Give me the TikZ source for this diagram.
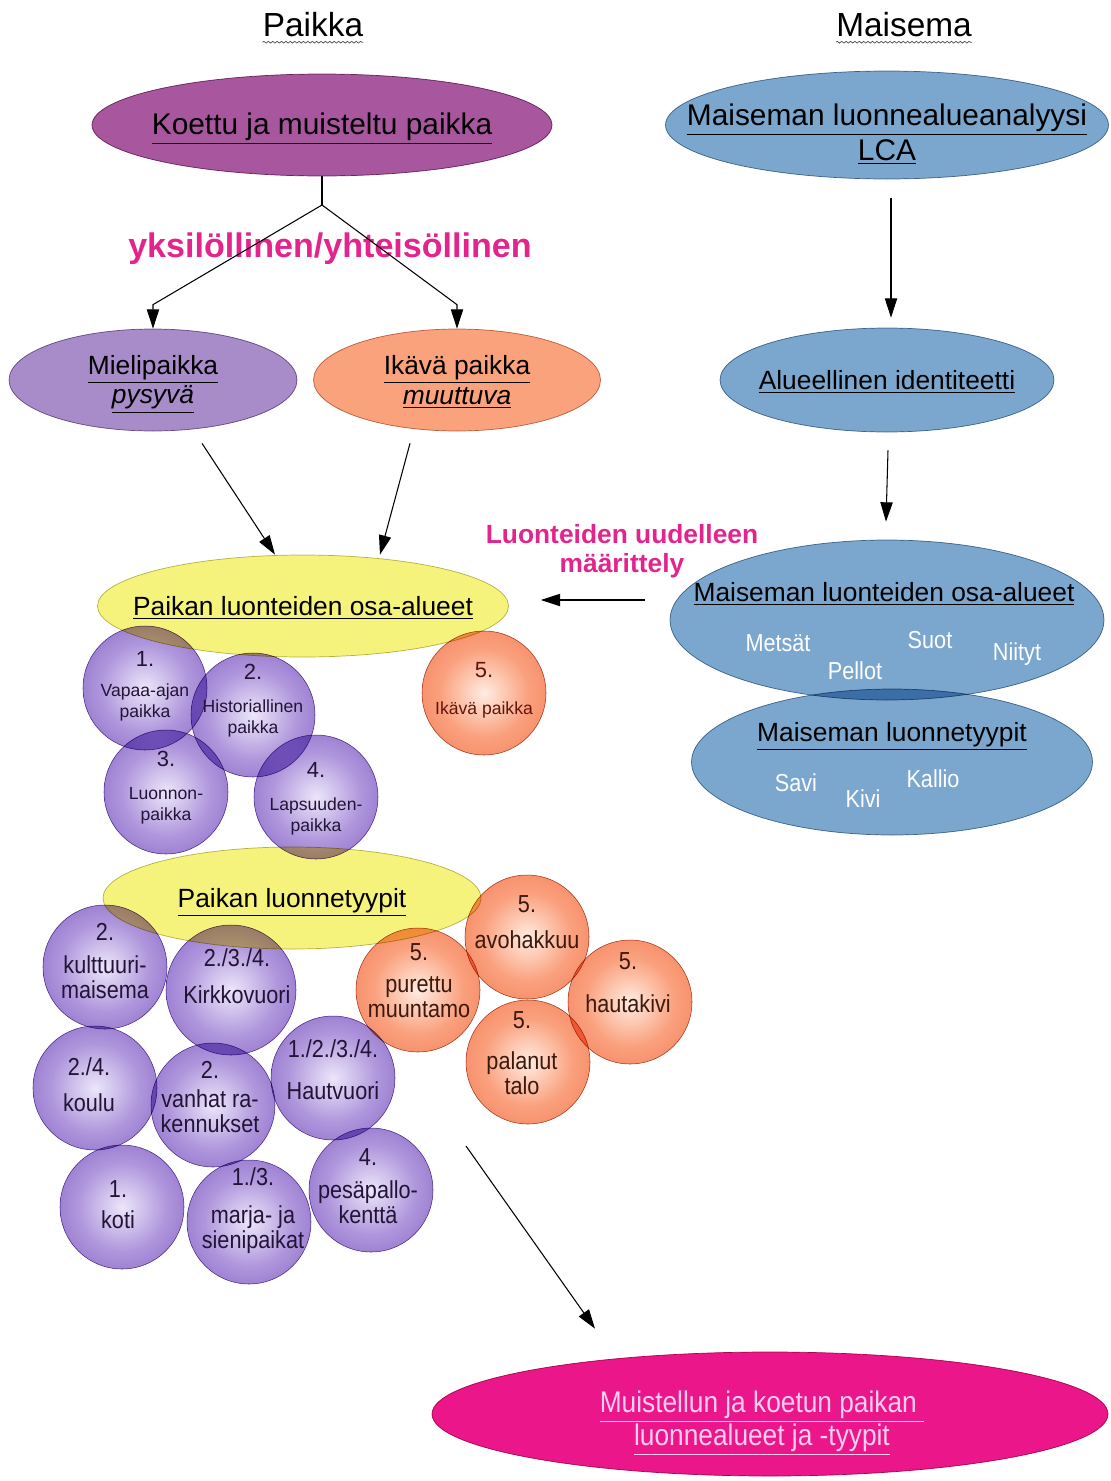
\documentclass[tikz,border=0pt]{standalone}
\usepackage{fontspec}
\setmainfont{Liberation Sans}
\newfontfamily\kapea[FakeStretch=0.88]{Liberation Sans}
\usetikzlibrary{shapes.geometric,arrows.meta,decorations.pathmorphing}

\definecolor{koettu}{RGB}{168,86,158}
\definecolor{maisema}{RGB}{123,167,206}
\definecolor{mieli}{RGB}{168,140,202}
\definecolor{ikava}{RGB}{250,162,124}
\definecolor{keltainen}{RGB}{246,243,125}
\definecolor{tulos}{RGB}{235,22,138}
\definecolor{pinkki}{RGB}{226,36,140}
\definecolor{vp0}{RGB}{236,230,250}
\definecolor{vp1}{RGB}{175,150,220}
\definecolor{vp2}{RGB}{130,95,195}
\definecolor{vp3}{RGB}{106,66,176}
\definecolor{op0}{RGB}{255,236,226}
\definecolor{op1}{RGB}{250,160,125}
\definecolor{op2}{RGB}{242,122,82}
\definecolor{op3}{RGB}{234,100,60}
\definecolor{tumma}{RGB}{35,20,55}
\definecolor{ruskea}{RGB}{60,25,15}
\definecolor{vaalea}{RGB}{255,205,240}

\pgfdeclareradialshading{violetti}{\pgfpoint{0bp}{0bp}}{color(0bp)=(vp0); color(18bp)=(vp1); color(38bp)=(vp2); color(50bp)=(vp3)}
\pgfdeclareradialshading{oranssi}{\pgfpoint{0bp}{0bp}}{color(0bp)=(op0); color(18bp)=(op1); color(38bp)=(op2); color(50bp)=(op3)}

\tikzset{
  nuoli/.style={-{Triangle[length=11pt,width=7pt]}, line width=.6pt},
  aalto/.style={decorate, decoration={snake, amplitude=.5pt, segment length=2.5pt}, line width=.4pt, draw=black!70},
  soikio/.style n args={3}{ellipse, minimum width=#1*0.02cm, minimum height=#2*0.02cm, inner sep=0pt, fill=#3, draw=#3!75!black, line width=.4pt},
  pallo/.style={circle, minimum size=124*0.02cm, inner sep=0pt, shade, shading=violetti, draw=vp3!85!black, line width=.3pt},
  opallo/.style={pallo, shading=oranssi, draw=op3!70!black},
  ots/.style={font=\fontsize{15}{17}\selectfont, align=center, inner sep=0pt},
  isoots/.style={font=\fontsize{17}{20}\selectfont, align=center, inner sep=0pt},
  pieni/.style={font=\fontsize{10}{12}\selectfont, align=center, inner sep=0pt, text=tumma},
  ptxt/.style={font=\kapea\fontsize{14}{14.2}\selectfont, align=center, inner sep=0pt, text=tumma},
  otxt/.style={ptxt, text=ruskea},
  valko/.style={font=\kapea\fontsize{14}{14}\selectfont, text=white, inner sep=0pt},
}

\begin{document}
\begin{tikzpicture}[x=0.02cm,y=-0.02cm]
\useasboundingbox (0,0) rectangle (1111,1481);
\node[font=\fontsize{19}{19}\selectfont, inner sep=0pt] (paikka) at (313,25) {Paikka};
\node[font=\fontsize{19}{19}\selectfont, inner sep=0pt] (maisema) at (904,25) {Maisema};
\draw[aalto] ([yshift=-3pt]paikka.base west) -- ([yshift=-3pt]paikka.base east);
\draw[aalto] ([yshift=-3pt]maisema.base west) -- ([yshift=-3pt]maisema.base east);
% muodot
\begin{scope}[blend mode=multiply]
\node[soikio={460}{102}{koettu}] (koettu) at (322,125) {};
\node[soikio={443}{108}{maisema}] (lca) at (887,125) {};
\node[soikio={288}{102}{mieli}] (mieli) at (153,380) {};
\node[soikio={287}{102}{ikava}] (ikava) at (457,380) {};
\node[soikio={334}{104}{maisema}] (alue) at (887,380) {};
\node[soikio={411}{102}{keltainen}] (osa) at (303,606) {};
\node[soikio={434}{160}{maisema}] (mosa) at (887,620) {};
\node[soikio={401}{146}{maisema}] (mtyyp) at (892,762) {};
\node[soikio={378}{102}{keltainen}] (tyyp) at (292,898) {};
\node[soikio={676}{124}{tulos}] (tulos) at (770,1414) {};
\node[pallo] (k1) at (145,688) {};
\node[pallo] (k2) at (253,715) {};
\node[pallo] (k3) at (166,792) {};
\node[pallo] (k4) at (316,797) {};
\node[opallo] (k5) at (484,693) {};
\node[pallo] (b1) at (105,967) {};
\node[pallo, minimum size=130*0.02cm] (b2) at (231,990) {};
\node[pallo] (b3) at (95,1088) {};
\node[pallo] (b4) at (213,1105) {};
\node[pallo] (b5) at (333,1078) {};
\node[pallo] (b6) at (122,1207) {};
\node[pallo] (b7) at (249,1222) {};
\node[pallo] (b8) at (371,1190) {};
\node[opallo] (o1) at (418,990) {};
\node[opallo] (o2) at (527,937) {};
\node[opallo] (o3) at (630,1002) {};
\node[opallo] (o4) at (528,1062) {};
\end{scope}
% tekstit
\node[isoots] (koettuT) at (322,129) {\underline{Koettu ja muisteltu paikka}};
\node[isoots] (lcaT) at (887,134) {\underline{Maiseman luonnealueanalyysi}\\[0pt]\underline{LCA}};
\node[ots] (mieliT) at (153,384) {\underline{Mielipaikka}\\\underline{\textit{pysyvä}}};
\node[ots] (ikavaT) at (457,382) {\underline{Ikävä paikka}\\\underline{\textit{muuttuva}}};
\node[ots] (alueT) at (887,382) {\underline{Alueellinen identiteetti}};
\node[ots] (osaT) at (303,608) {\underline{Paikan luonteiden osa-alueet}};
\node[ots] (mosaT) at (884,594) {\underline{Maiseman luonteiden osa-alueet}};
\node[ots] (mtyypT) at (892,736) {\underline{Maiseman luonnetyypit}};
\node[ots] (tyypT) at (292,902) {\underline{Paikan luonnetyypit}};
\node[isoots, font=\kapea\fontsize{17}{17.6}\selectfont, text=vaalea] (tulosT) at (762,1423) {\underline{Muistellun ja koetun paikan\ }\\\underline{luonnealueet ja -tyypit}};
\node[valko] (metsat) at (778,643) {Metsät};
\node[valko] (suot) at (930,640) {Suot};
\node[valko] (niityt) at (1017,654) {Niityt};
\node[valko] (pellot) at (855,671) {Pellot};
\node[valko] (savi) at (796,783) {Savi};
\node[valko] (kivi) at (863,799) {Kivi};
\node[valko] (kallio) at (933,779) {Kallio};
\node[font=\bfseries\fontsize{19.4}{20}\selectfont, text=pinkki, inner sep=0pt] (yksi) at (330,249) {yksilöllinen/yhteisöllinen};
\node[font=\bfseries\fontsize{15}{16.4}\selectfont, text=pinkki, align=center, inner sep=0pt] (uusi) at (622,551) {Luonteiden uudelleen\\määrittely};
% pallojen tekstit
\node[pieni] (k1T) at (145,686) {{\fontsize{12.5}{12.5}\selectfont 1.}\\[5pt]Vapaa-ajan\\paikka};
\node[pieni] (k2T) at (253,701) {{\fontsize{12.5}{12.5}\selectfont 2.}\\[6.7pt]Historiallinen\\paikka};
\node[pieni] (k3T) at (166,788) {{\fontsize{12.5}{12.5}\selectfont 3.}\\[6.7pt]Luonnon-\\paikka};
\node[pieni] (k4T) at (316,799) {{\fontsize{12.5}{12.5}\selectfont 4.}\\[6.7pt]Lapsuuden-\\paikka};
\node[pieni, text=ruskea!80!red] (k5T) at (484,690) {{\fontsize{12.5}{12.5}\selectfont 5.}\\[9pt]Ikävä paikka};
\node[ptxt] (b1T) at (105,961) {2.\\[4.7pt]kulttuuri-\\maisema};
\node[ptxt] (b2T) at (237,976) {2./3./4.\\[7pt]Kirkkovuori};
\node[ptxt] (b3T) at (89,1085) {2./4.\\[6.4pt]koulu};
\node[ptxt] (b4T) at (210,1097) {2.\\[1.9pt]vanhat ra-\\kennukset};
\node[ptxt] (b5T) at (333,1070) {1./2./3./4.\\[9.8pt]Hautvuori};
\node[ptxt] (b6T) at (118,1205) {1.\\[3.6pt]koti};
\node[ptxt] (b7T) at (253,1211) {1./3.\\[7.5pt]marja- ja\\sienipaikat};
\node[ptxt] (b8T) at (368,1186) {4.\\[4.7pt]pesäpallo-\\kenttä};
\node[otxt] (o1T) at (419,981) {5.\\[4.1pt]purettu\\muuntamo};
\node[otxt] (o2T) at (527,922) {5.\\[6.4pt]avohakkuu};
\node[otxt] (o3T) at (628,983) {5.\\[10.4pt]hautakivi};
\node[otxt] (o4T) at (522,1053) {5.\\[9.2pt]palanut\\talo};
% nuolet
\coordinate (haara) at (322,205);
\draw[line width=.6pt] (koettu.south) -- (haara);
\draw[nuoli] (haara) -- ([yshift=.48cm]mieli.north) -- (mieli.north);
\draw[nuoli] (haara) -- ([yshift=.48cm]ikava.north) -- (ikava.north);
\draw[nuoli] ([shift={(49,12)}]mieli.south) -- ([shift={(-28,0)}]osa.north);
\draw[nuoli] ([shift={(-47,12)}]ikava.south) -- ([shift={(77,0)}]osa.north);
\draw[nuoli] ([shift={(4,19)}]lca.south) -- ([shift={(4,-10)}]alue.north);
\draw[nuoli] ([shift={(1,18)}]alue.south) -- ([shift={(-1,-18)}]mosa.north);
\draw[nuoli] ([shift={(-25,-20)}]mosa.west) -- ([shift={(32,-6)}]osa.east);
\coordinate (alku) at (466,1146);
\draw[nuoli] (alku) -- ([shift={(-175,-23)}]tulos.north);
\end{tikzpicture}
\end{document}
